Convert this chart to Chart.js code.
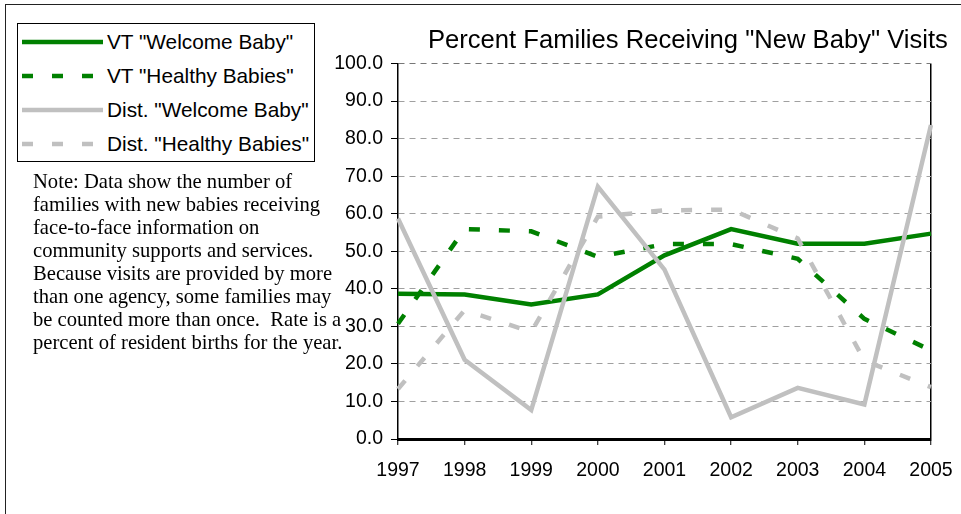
<!DOCTYPE html>
<html>
<head>
<meta charset="utf-8">
<script src="https://cdn.jsdelivr.net/npm/chart.js@4.4.1/dist/chart.umd.min.js"></script>
<style>
    html, body { margin: 0; padding: 0; background: #fff; }
    #wrap { position: relative; width: 961px; height: 514px; overflow: hidden; }
    #frame {
        position: absolute; left: 5px; top: 4px; right: -10px; bottom: -10px;
        border-left: 1.5px solid #222; border-top: 1.5px solid #222;
    }
    #chart { position: absolute; left: 0; top: 0; }
    #title {
        position: absolute; left: 428px; top: 25px; line-height: 30px;
        font: 25.6px "Liberation Sans", Arial, sans-serif; color: #000; white-space: nowrap;
    }
    #legend {
        position: absolute; left: 17px; top: 23px; width: 296px; height: 136px;
        border: 1px solid #000; background: #fff; padding-top: 1px;
        font: 20.8px "Liberation Sans", Arial, sans-serif; color: #000;
    }
    .row { display: flex; align-items: center; height: 34px; white-space: nowrap; }
    .row svg { margin-left: 4px; margin-right: 4px; flex: none; }
    #note {
        position: absolute; left: 33px; top: 170px; line-height: 27.2px;
        font: 20.6px "Liberation Serif", "Times New Roman", serif; color: #000; white-space: nowrap;
    }
</style>
</head>
<body>
<div id="wrap">
    <div id="frame"></div>
    <canvas id="chart" width="961" height="514"></canvas>
    <div id="title">Percent Families Receiving "New Baby" Visits</div>
    <div id="legend"></div>
    <div id="note">Note: Data show the number of<br>families with new babies receiving<br>face-to-face information on<br>community supports and services.<br>Because visits are provided by more<br>than one agency, some families may<br>be counted more than once.&nbsp; Rate is a<br>percent of resident births for the year.</div>
</div>
<script>
const years = ['1997', '1998', '1999', '2000', '2001', '2002', '2003', '2004', '2005'];

const vtWelcome = [38.7, 38.5, 35.8, 38.5, 48.9, 55.9, 52.0, 52.0, 54.7];
const vtHealthy = [30.7, 55.9, 55.3, 48.5, 51.9, 51.9, 48.0, 32.0, 23.6];
const distWelcome = [58.7, 21.1, 7.7, 67.2, 45.1, 5.8, 13.6, 9.2, 83.6];
const distHealthy = [13.3, 34.3, 28.5, 59.2, 60.9, 61.1, 53.4, 20.9, 13.8];

const seriesNames = ['VT "Welcome Baby"', 'VT "Healthy Babies"', 'Dist. "Welcome Baby"', 'Dist. "Healthy Babies"'];

const GREEN = '#008000';
const GRAY = '#c0c0c0';
const DASH = [11, 19];

function makeLine(label, data, color, dash, order) {
    return {
        label: label,
        data: data,
        borderColor: color,
        backgroundColor: color,
        borderWidth: 4.5,
        borderDash: dash,
        borderCapStyle: 'butt',
        borderJoinStyle: 'miter',
        pointRadius: 0,
        pointHoverRadius: 0,
        tension: 0,
        fill: false,
        order: order
    };
}

const tickFont = { family: '"Liberation Sans", Arial, sans-serif', size: 19.5 };

let chart;
function initChart() {
    const ctx = document.getElementById('chart').getContext('2d');
    chart = new Chart(ctx, {
        type: 'line',
        data: {
            labels: years,
            datasets: [
                makeLine(seriesNames[0], vtWelcome, GREEN, [], 4),
                makeLine(seriesNames[1], vtHealthy, GREEN, DASH, 3),
                makeLine(seriesNames[2], distWelcome, GRAY, [], 2),
                makeLine(seriesNames[3], distHealthy, GRAY, DASH, 1)
            ]
        },
        options: {
            responsive: false,
            animation: false,
            layout: { padding: { left: 330, right: 30, top: 63.5, bottom: 25 } },
            plugins: {
                legend: { display: false },
                title: { display: false },
                tooltip: { enabled: false }
            },
            scales: {
                x: {
                    offset: false,
                    afterFit: s => {
                        s.height = 50;
                        // labels may overhang into the layout padding
                        s.paddingLeft = 0;
                        s.paddingRight = 0;
                    },
                    ticks: { color: '#000', font: tickFont, padding: 14, maxRotation: 0, autoSkip: false },
                    grid: {
                        color: c => c.index === years.length - 1 ? '#000' : 'rgba(0,0,0,0)',
                        lineWidth: 1.5,
                        tickColor: '#000',
                        tickWidth: 1,
                        tickLength: 6,
                        tickBorderDash: []
                    },
                    border: { color: '#000', width: 3, dash: [] }
                },
                y: {
                    min: 0,
                    max: 100,
                    afterFit: s => { s.width = 68; },
                    ticks: {
                        stepSize: 10,
                        color: '#000',
                        font: tickFont,
                        padding: 8,
                        callback: v => v.toFixed(1)
                    },
                    grid: {
                        color: c => c.tick && c.tick.value === 100 ? '#777' : '#a0a0a0',
                        lineWidth: 1,
                        tickColor: '#000',
                        tickWidth: 1,
                        tickLength: 7,
                        tickBorderDash: []
                    },
                    border: { color: '#000', width: 1.5, dash: [6, 5] }
                }
            }
        }
    });
}

function buildLegend() {
    const box = document.getElementById('legend');
    chart.data.datasets.forEach(ds => {
        const row = document.createElement('div');
        row.className = 'row';
        const dash = ds.borderDash.length ? ds.borderDash.join(',') : 'none';
        row.innerHTML =
            '<svg width="81" height="10"><line x1="0" y1="5" x2="81" y2="5" stroke="' + ds.borderColor +
            '" stroke-width="' + ds.borderWidth + '" stroke-dasharray="' + dash +
            '" stroke-linecap="' + (ds.borderDash.length ? 'butt' : 'round') + '"/></svg>';
        const span = document.createElement('span');
        span.textContent = ds.label;
        row.appendChild(span);
        box.appendChild(row);
    });
}

document.addEventListener('DOMContentLoaded', () => {
    initChart();
    buildLegend();
});
</script>
</body>
</html>
